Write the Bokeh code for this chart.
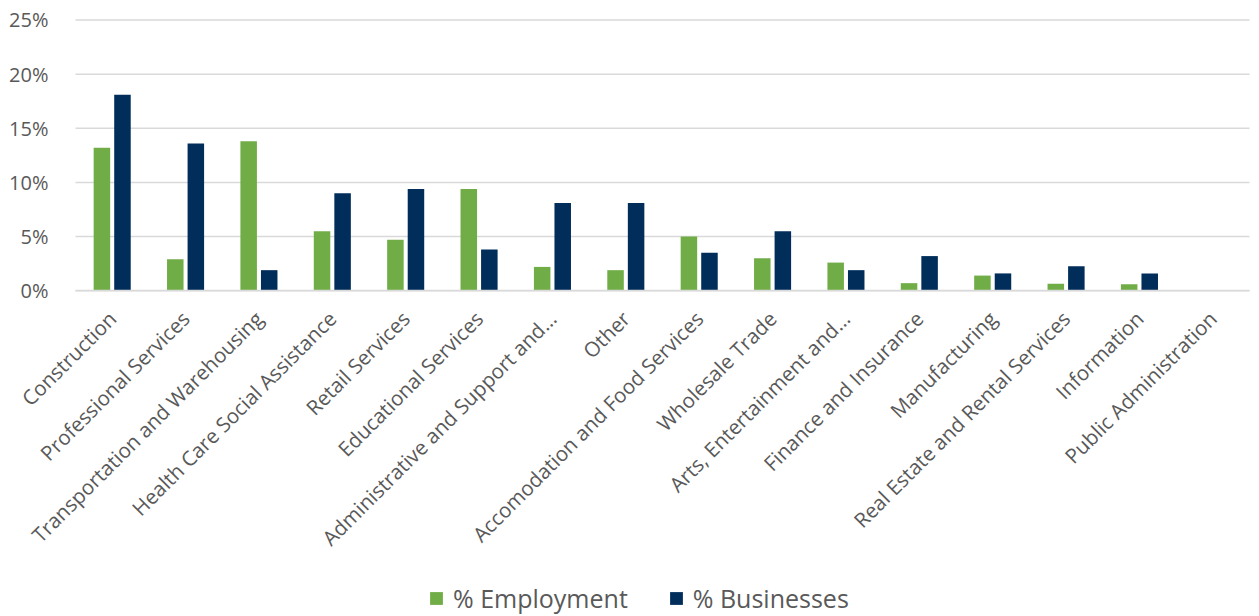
from bokeh.plotting import figure
from bokeh.models import (ColumnDataSource, Range1d, FixedTicker, LinearAxis,
                          NumeralTickFormatter, Legend, LegendItem)
from bokeh.transform import dodge
from bokeh.embed import file_html
from bokeh.resources import INLINE

categories = ["Construction", "Professional Services", "Transportation and Warehousing",
              "Health Care Social Assistance", "Retail Services", "Educational Services",
              "Administrative and Support and...", "Other", "Accomodation and Food Services",
              "Wholesale Trade", "Arts, Entertainment and...", "Finance and Insurance",
              "Manufacturing", "Real Estate and Rental Services", "Information",
              "Public Administration"]
employment = [0.132, 0.029, 0.138, 0.055, 0.047, 0.094, 0.022, 0.019, 0.050, 0.030,
              0.026, 0.007, 0.014, 0.0065, 0.006, 0.0]
businesses = [0.181, 0.136, 0.019, 0.090, 0.094, 0.038, 0.081, 0.081, 0.035, 0.055,
              0.019, 0.032, 0.016, 0.0225, 0.016, 0.0]
series_names = ["% Employment", "% Businesses"]
y_ticks = [0, 0.05, 0.10, 0.15, 0.20, 0.25]

GREEN = "#70AD47"
NAVY = "#002D5A"
TXT = "#595959"
GRID = "#D9D9D9"
FONT = "Open Sans"

n = len(categories)
idx = list(range(n))
src = ColumnDataSource(dict(idx=idx, cat=categories, emp=employment, bus=businesses))
grid_src = ColumnDataSource(dict(x0=[-0.5] * len(y_ticks), x1=[n - 0.5] * len(y_ticks),
                                 y=y_ticks))

# the frame covers the whole canvas; axes are pinned inside it
p = figure(x_range=Range1d(-1.5221, 15.527), y_range=Range1d(-0.3008, 0.2680),
           frame_width=1251, frame_height=616,
           output_backend="svg", toolbar_location=None,
           min_border_left=0, min_border_right=8, min_border_top=0, min_border_bottom=0)
p.xaxis.visible = False
p.yaxis.visible = False
p.grid.visible = False
p.outline_line_color = None

# horizontal gridlines limited to the category area
p.segment(x0="x0", x1="x1", y0="y", y1="y", source=grid_src,
          line_color=GRID, line_width=1.5)

r1 = p.vbar(x=dodge("idx", -0.14), top="emp", width=0.225,
            source=src, fill_color=GREEN, line_color=None)
r2 = p.vbar(x=dodge("idx", 0.14), top="bus", width=0.225,
            source=src, fill_color=NAVY, line_color=None)

yax = LinearAxis(ticker=FixedTicker(ticks=y_ticks),
                 formatter=NumeralTickFormatter(format="0%"),
                 fixed_location=-0.5, axis_line_color=None,
                 major_tick_line_color=None, minor_tick_line_color=None,
                 major_label_standoff=21, major_label_text_font=FONT,
                 major_label_text_font_size="20px", major_label_text_color=TXT)
p.add_layout(yax, "left")

xax = LinearAxis(ticker=FixedTicker(ticks=idx),
                 major_label_overrides={i: c for i, c in zip(idx, categories)},
                 fixed_location=0, bounds=(-0.5, n - 0.5),
                 axis_line_color=GRID, axis_line_width=1.5,
                 major_tick_line_color=None, minor_tick_line_color=None,
                 major_label_orientation=0.785, major_label_standoff=18,
                 major_label_text_font=FONT, major_label_text_font_size="20.5px",
                 major_label_text_color=TXT)
p.add_layout(xax, "below")

legend = Legend(items=[LegendItem(label=series_names[0], renderers=[r1]),
                       LegendItem(label=series_names[1], renderers=[r2])],
                orientation="horizontal", location=(428, 1),
                label_text_font=FONT, label_text_font_size="25px",
                label_text_color=TXT, glyph_width=16, glyph_height=16,
                label_standoff=9, spacing=40, border_line_color=None,
                background_fill_alpha=0, margin=0, padding=4)
p.add_layout(legend)

open("out.html", "w").write(file_html(p, INLINE))
